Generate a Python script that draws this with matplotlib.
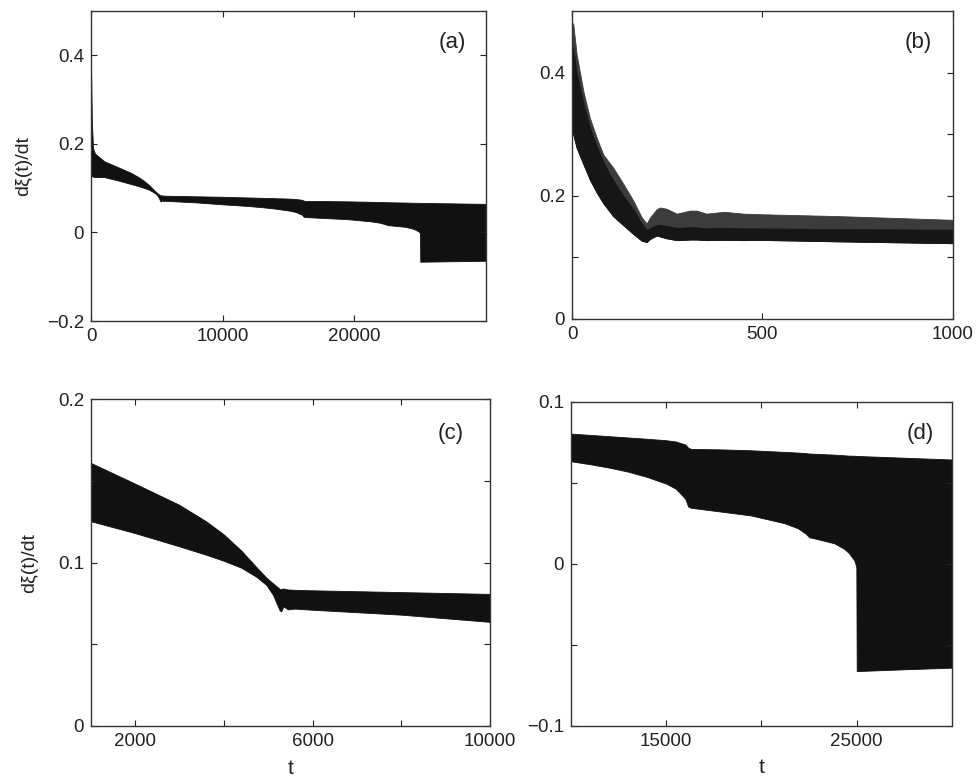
import matplotlib
matplotlib.use("Agg")
import matplotlib.pyplot as plt
import numpy as np

plt.rcParams['font.family'] = ['Liberation Sans', 'DejaVu Sans']

# long-time envelope of dxi/dt (panels a, c, d)
t_long = [0, 60, 150, 300, 1000, 2000, 3000, 3600, 4000, 4400, 4737, 4963,
          5113, 5263, 5300, 5350, 5450, 5600, 6000, 8000, 10000, 11000, 12000,
          13000, 14000, 15000, 15500, 16000, 16150, 16300, 17700, 19440, 21200,
          21900, 22340, 22500, 22680, 23820, 24350, 24600, 24880, 24980, 25000,
          27500, 29990]
upper_long = [0.37, 0.25, 0.19, 0.178, 0.1607, 0.148, 0.135, 0.125, 0.117,
              0.107, 0.097, 0.0905, 0.087, 0.0836, 0.0835, 0.0838,
              0.0832, 0.083, 0.0827, 0.0816, 0.0805, 0.0797, 0.0789, 0.0781,
              0.0773, 0.0764, 0.0756, 0.0738, 0.0718, 0.071, 0.0708, 0.0702,
              0.0692, 0.0688, 0.0684, 0.0682, 0.0681, 0.0675, 0.0671, 0.0669,
              0.0668, 0.0667, 0.0667, 0.0656, 0.0645]
lower_long = [0.128, 0.127, 0.126, 0.125, 0.125, 0.1177, 0.1096, 0.1045,
              0.1008, 0.0965, 0.091, 0.086, 0.080, 0.0705, 0.0698, 0.0729,
              0.071, 0.0715, 0.0708, 0.0678, 0.0634, 0.0616, 0.0595, 0.057,
              0.0537, 0.0496, 0.0465, 0.0403, 0.0355, 0.0347, 0.0326, 0.030,
              0.0252, 0.0221, 0.0186, 0.0165, 0.0161, 0.0128, 0.0093, 0.0066,
              0.0021, -0.002, -0.0661, -0.065, -0.064]

# early-time envelope (panel b): outer edges and top of the dark core
t_early = [0, 3, 12, 30, 47, 65, 82, 108, 135, 161, 183, 196, 205, 222, 231, 248,
           275, 310, 327, 353, 400, 450, 500, 700, 1000]
upper_early = [0.45, 0.48, 0.43, 0.369, 0.326, 0.294, 0.267, 0.2457, 0.219, 0.192,
               0.165, 0.155, 0.165, 0.178, 0.181, 0.179, 0.171, 0.176, 0.176,
               0.171, 0.174, 0.171, 0.170, 0.167, 0.161]
core_early = [0.42, 0.44, 0.40, 0.35, 0.31, 0.28, 0.255, 0.225, 0.20, 0.178, 0.155,
              0.145, 0.148, 0.152, 0.153, 0.151, 0.148, 0.149, 0.149, 0.147, 0.148,
              0.147, 0.147, 0.146, 0.145]
lower_early = [0.30, 0.30, 0.278, 0.251, 0.226, 0.205, 0.188, 0.167, 0.152, 0.138,
               0.127, 0.125, 0.130, 0.1355, 0.134, 0.131, 0.128, 0.129, 0.129,
               0.128, 0.1285, 0.128, 0.1283, 0.126, 0.123]

fig = plt.figure(figsize=(9.79, 7.83), dpi=100)
ax_a = fig.add_axes([0.093, 0.590, 0.4034, 0.396])
ax_b = fig.add_axes([0.5843, 0.5926, 0.389, 0.3934])
ax_c = fig.add_axes([0.093, 0.0728, 0.4076, 0.4176])
ax_d = fig.add_axes([0.5832, 0.0728, 0.389, 0.4138])

band = '#111111'
for ax in (ax_a, ax_c, ax_d):
    ax.fill_between(t_long, lower_long, upper_long, color=band, lw=0.6, edgecolor=band)
ax_b.fill_between(t_early, lower_early, upper_early, color='#3c3c3c', lw=0.6, edgecolor='#3c3c3c')
ax_b.fill_between(t_early, lower_early, core_early, color='#161616', lw=0.6, edgecolor='#161616')

def fmt(v):
    return ('%g' % v).replace('-', '\u2212')

def style(ax, xlim, ylim, xt, xl, yt, yl, tag, tagpos):
    ax.set_xlim(*xlim)
    ax.set_ylim(*ylim)
    ax.set_xticks(xt)
    ax.set_xticklabels(xl)
    ax.set_yticks(yt)
    ax.set_yticklabels(yl)
    ax.tick_params(direction='in', length=4, width=0.8, top=True, right=True,
                   labelsize=13.5, pad=5, colors='#222222')
    for s in ax.spines.values():
        s.set_color('#333333')
        s.set_linewidth(1.0)
    ax.text(tagpos[0], tagpos[1], tag, transform=ax.transAxes, fontsize=16,
            ha='center', va='center', color='#222222')

style(ax_a, (0, 29990), (-0.2, 0.5), [0, 10000, 20000], ['0', '10000', '20000'],
      [-0.2, 0, 0.2, 0.4], [fmt(v) for v in [-0.2, 0, 0.2, 0.4]], '(a)', (0.914, 0.897))
style(ax_b, (0, 1000), (0, 0.5), [0, 500, 1000], ['0', '500', '1000'],
      [0, 0.1, 0.2, 0.3, 0.4], ['0', '', '0.2', '', '0.4'], '(b)', (0.908, 0.896))
style(ax_c, (1000, 10000), (0, 0.2), [2000, 4000, 6000, 8000, 10000],
      ['2000', '', '6000', '', '10000'],
      [0, 0.05, 0.1, 0.15, 0.2], ['0', '', '0.1', '', '0.2'], '(c)', (0.902, 0.896))
style(ax_d, (10000, 29990), (-0.1, 0.1), [15000, 20000, 25000], ['15000', '', '25000'],
      [-0.1, -0.05, 0, 0.05, 0.1], [fmt(-0.1), '', '0', '', '0.1'], '(d)', (0.916, 0.904))

ax_a.set_ylabel('d\u03be(t)/dt', fontsize=14, color='#222222')
ax_a.yaxis.set_label_coords(-0.149, 0.5)
ax_c.set_ylabel('d\u03be(t)/dt', fontsize=14, color='#222222')
ax_c.yaxis.set_label_coords(-0.133, 0.5)
ax_c.set_xlabel('t', fontsize=15, color='#222222')
ax_c.xaxis.set_label_coords(0.5, -0.10)
ax_d.set_xlabel('t', fontsize=15, color='#222222')
ax_d.xaxis.set_label_coords(0.5, -0.10)

fig.savefig('out.png', dpi=100)
